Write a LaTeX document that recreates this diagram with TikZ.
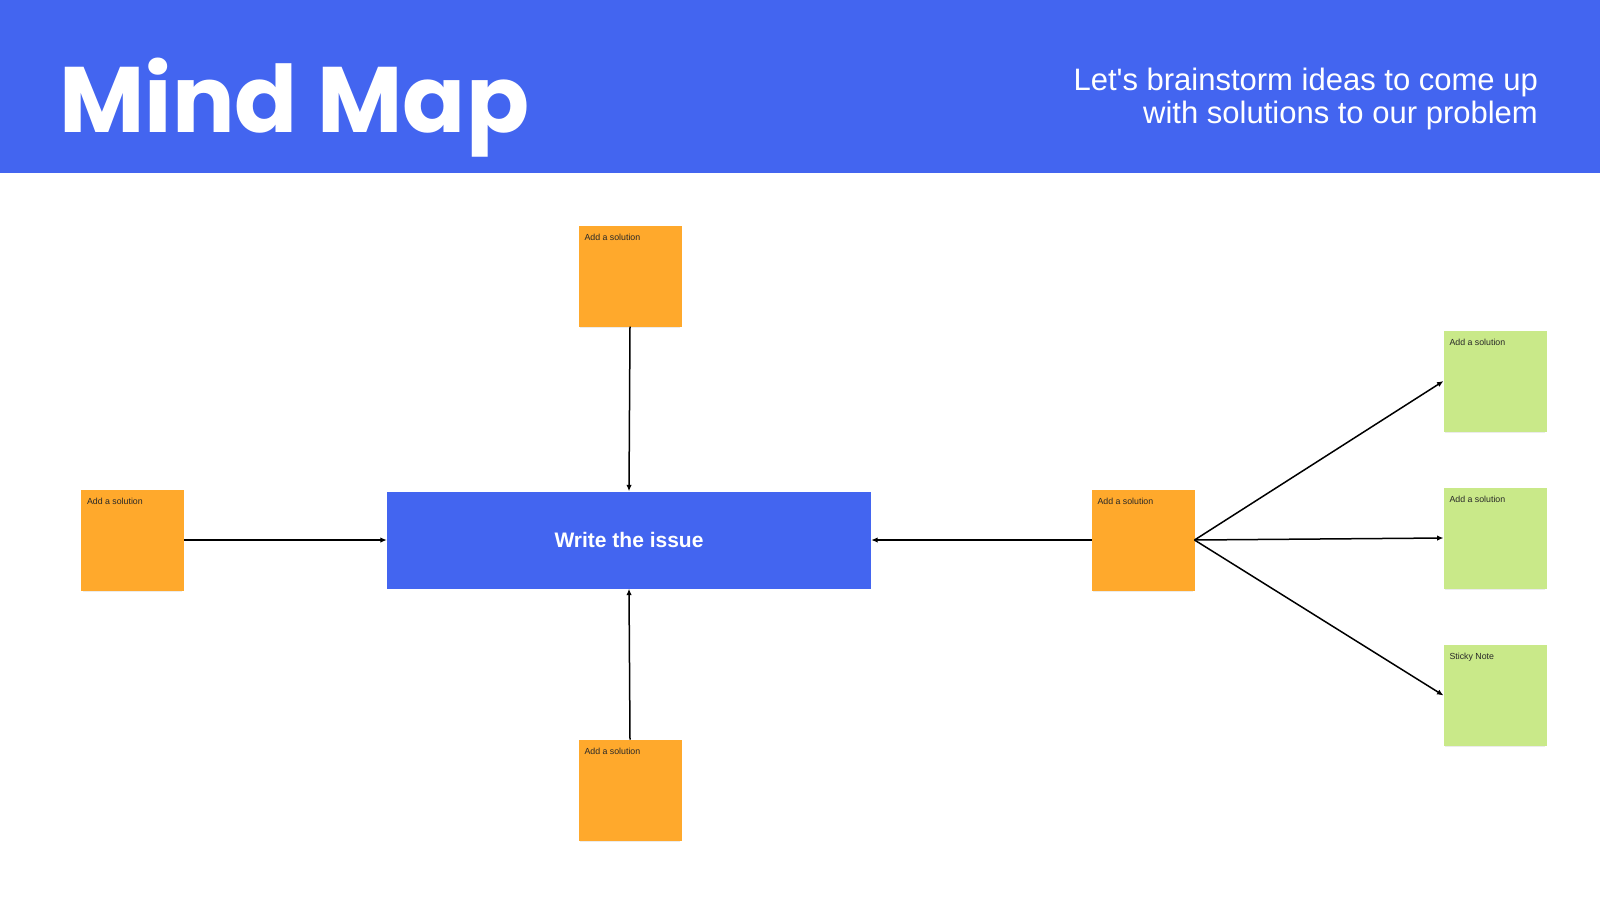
\documentclass[tikz,border=0pt]{standalone}
\usepackage{fontspec}
\setmainfont{Liberation Sans}
\newfontfamily\titlefont{Poppins}
\usetikzlibrary{arrows.meta,shadows}
\definecolor{hblue}{RGB}{67,101,240}
\definecolor{sorange}{RGB}{255,169,44}
\definecolor{sgreen}{RGB}{201,233,137}
\definecolor{ntext}{RGB}{40,40,40}
\newcommand{\stickytext}[1]{\parbox[c][101pt][t]{91pt}{\vspace*{8.5pt}#1}}
\tikzset{
 note/.style={inner xsep=6pt, inner ysep=0pt, outer sep=0pt, font=\fontsize{8.8}{10}\selectfont, text=ntext,
   drop shadow={shadow xshift=0pt, shadow yshift=-3pt, shadow scale=0.97, fill=black, opacity=0.08}},
 onote/.style={note, fill=sorange},
 gnote/.style={note, fill=sgreen},
 conn/.style={line width=1.5pt, -{Latex[length=6.5pt,width=5.5pt]}},
}
\begin{document}
\begin{tikzpicture}[x=1pt,y=-1pt]
\useasboundingbox (0,0) rectangle (1600,900);
\fill[white] (0,0) rectangle (1600,900);
\fill[hblue] (0,0) rectangle (1600,173);
\node[anchor=base west, inner sep=0, text=white, font=\titlefont\bfseries\fontsize{93}{100}\selectfont] (title) at (59,132) {Mind Map};
\node[anchor=north east, align=right, inner sep=0, text=white, font=\fontsize{31}{33.5}\selectfont] (sub) at (1538,67.5) {Let\textquotesingle s brainstorm ideas to come up\\with solutions to our problem};

\node[fill=hblue, minimum width=484pt, minimum height=97pt, inner sep=0, text=white, font=\bfseries\fontsize{21}{25}\selectfont] (issue) at (629,540) {Write the issue};

\node[onote] (top) at (630,276) {\stickytext{Add a solution}};
\node[onote] (left) at (132.5,540) {\stickytext{Add a solution}};
\node[onote] (bottom) at (630,790) {\stickytext{Add a solution}};
\node[onote] (right) at (1143,540) {\stickytext{Add a solution}};
\node[gnote] (g1) at (1495,381) {\stickytext{Add a solution}};
\node[gnote] (g2) at (1495,538) {\stickytext{Add a solution}};
\node[gnote] (g3) at (1495,695.5) {\stickytext{Sticky Note}};

\draw[conn] (top.south) -- (issue.north);
\draw[conn] (left.east) -- (issue.west);
\draw[conn] (bottom.north) -- (issue.south);
\draw[conn] (right.west) -- (issue.east);
\draw[conn] (right.east) -- (g1.west);
\draw[conn] (right.east) -- (g2.west);
\draw[conn] (right.east) -- (g3.west);
\end{tikzpicture}
\end{document}
